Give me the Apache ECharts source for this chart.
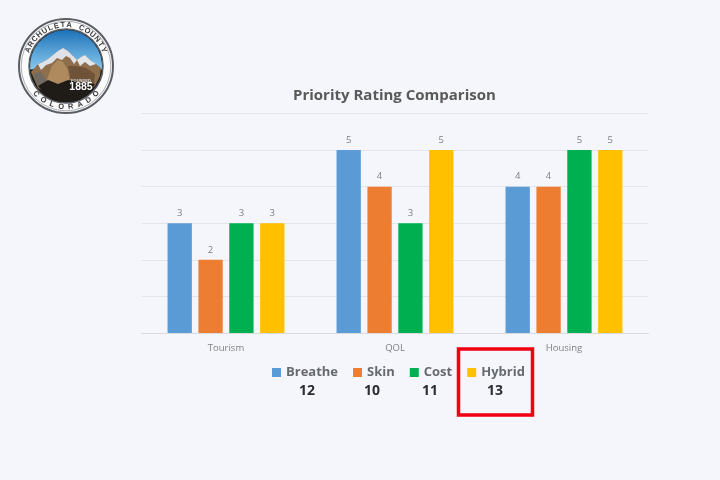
<!DOCTYPE html>
<html><head><meta charset="utf-8">
<style>html,body{margin:0;padding:0;background:#f5f6fb}#c{width:720px;height:480px}</style>
<script src="https://cdn.jsdelivr.net/npm/echarts@6/dist/echarts.min.js"></script>
</head><body><div id="c"></div>
<script>
const categories = ['Tourism','QOL','Housing'];
const breathe = [3,5,4];
const skin = [2,4,4];
const cost = [3,3,5];
const hybrid = [3,5,5];
const totals = [['12',307],['10',372],['11',430],['13',495]];
const topText = 'ARCHULETA COUNTY';
const bottomText = 'COLORADO';
const cx = 66, cy = 66;

function arcLetters(text, r, startDeg, stepDeg, bottom){
  return text.split('').map((ch,i)=>{
    const deg = startDeg + i*stepDeg;
    const a = deg*Math.PI/180;
    return {type:'text', z:14,
      x: cx + r*Math.sin(a), y: cy - r*Math.cos(a),
      rotation: bottom ? Math.PI-a : -a,
      originX: cx + r*Math.sin(a), originY: cy - r*Math.cos(a),
      style:{x:0,y:0,text:ch, fill:'#3a3a3c', font:'bold 7.5px "Liberation Sans"', align:'center', verticalAlign:'middle'}};
  }).map(o=>{o.originX=0;o.originY=0;return o;});
}
function logo(){
  const poly=(pts,fill,z)=>({type:'polygon',z:z,shape:{points:pts},style:{fill:fill}});
  return [
    {type:'circle',z:10,shape:{cx,cy,r:47},style:{fill:'#fbfbfc',stroke:'#5a5e64',lineWidth:2}},
    {type:'circle',z:10,shape:{cx,cy,r:44.8},style:{fill:'none',stroke:'#8a8e94',lineWidth:0.7}},
    {type:'circle',z:10,shape:{cx,cy,r:37},style:{fill:'#1b1a18',stroke:'#5a5e64',lineWidth:1.5}},
    {type:'sector',z:11,shape:{cx,cy,r:36,r0:0,startAngle:Math.PI*0.97,endAngle:Math.PI*2.03},
      style:{fill:new echarts.graphic.LinearGradient(0,0,0,1,[{offset:0,color:'#1f72b8'},{offset:1,color:'#86c9ee'}])}},
    poly([[31,72],[38,64],[43,62],[48,59],[53,55],[58,51],[63,48],[68,51],[73,56],[77,60],[81,57],[85,55],[90,60],[96,64],[101,68],[100,76],[95,86],[80,96],[52,96],[38,88]],'#8f6e4c',12),
    poly([[38,64],[43,62],[48,59],[53,55],[58,51],[63,48],[68,51],[73,56],[77,60],[74,64],[70,58],[66,56],[62,60],[57,58],[52,63],[46,65],[41,70]],'#dfe2e8',13),
    poly([[77,60],[81,57],[85,55],[90,60],[96,64],[90,66],[85,62],[80,66]],'#e4e6eb',13),
    poly([[52,66],[58,60],[63,62],[68,70],[70,84],[56,88],[46,82]],'#b08a5f',13),
    poly([[68,66],[76,66],[86,68],[95,74],[94,84],[72,86]],'#6e5339',13),
    poly([[33,74],[41,72],[46,80],[44,88],[38,86]],'#6f6a64',13),
    poly([[38,86],[48,80],[58,84],[68,80],[80,82],[95,84],[88,94],[76,101],[58,101],[46,96]],'#1f1c18',13),
    {type:'text',z:14,x:81,y:80.5,style:{text:'FOUNDED',fill:'#d8d8d8',font:'bold 4px "Liberation Sans"',align:'center',verticalAlign:'middle'}},
    {type:'text',z:14,x:81,y:87,style:{text:'1885',fill:'#ffffff',font:'bold 10.5px "Liberation Sans"',align:'center',verticalAlign:'middle'}},
    ...arcLetters(topText, 41, -67, 8.93, false),
    ...arcLetters(bottomText, 41, 227, -13.4, true)
  ];
}
const names = ['Breathe','Skin','Cost','Hybrid'];
const colors = ['#5b9bd5','#ed7d31','#00b050','#ffc000'];
const values = [breathe,skin,cost,hybrid];
const chart = echarts.init(document.getElementById('c'));
chart.setOption({
  animation:false,
  backgroundColor:'#f5f6fb',
  textStyle:{fontFamily:'"Open Sans"'},
  title:{text:'Priority Rating Comparison',left:288,top:81,
    textStyle:{fontFamily:'"Open Sans"',fontSize:15,fontWeight:'bold',color:'#595959',lineHeight:20}},
  legend:{left:267,top:361,itemWidth:9,itemHeight:9,itemGap:15,icon:'rect',data:names,
    textStyle:{fontFamily:'"Open Sans"',fontSize:13,fontWeight:'bold',color:'#666a70'}},
  grid:{left:141.5,right:71.5,top:113.5,bottom:147,containLabel:false},
  xAxis:{type:'category',data:categories,
    axisLine:{lineStyle:{color:'#d9dadf',width:1}},axisTick:{show:false},
    axisLabel:{color:'#7f8084',fontSize:9.5,margin:10,fontFamily:'"Open Sans"'}},
  yAxis:{type:'value',min:0,max:6,interval:1,
    axisLabel:{show:false},axisLine:{show:false},axisTick:{show:false},
    splitLine:{lineStyle:{color:'#e4e5ea',width:1}}},
  series:names.map((n,i)=>({
    name:n,type:'bar',data:values[i],barWidth:24.3,barGap:'27%',barCategoryGap:'31%',
    itemStyle:{color:colors[i]},
    label:{show:true,position:'top',distance:5,color:'#7f8084',fontSize:9.5,fontFamily:'"Open Sans"'}
  })),
  graphic:[
    ...logo(),
    ...totals.map(t=>({type:'text',z:5,x:t[1],y:391,style:{text:t[0],fill:'#2b2d33',
      font:'bold 14px "Open Sans"',align:'center',verticalAlign:'middle'}})),
    {type:'rect',z:5,shape:{x:458.5,y:349,width:74,height:66},style:{fill:'none',stroke:'#f00012',lineWidth:3.5}}
  ]
});
</script></body></html>
